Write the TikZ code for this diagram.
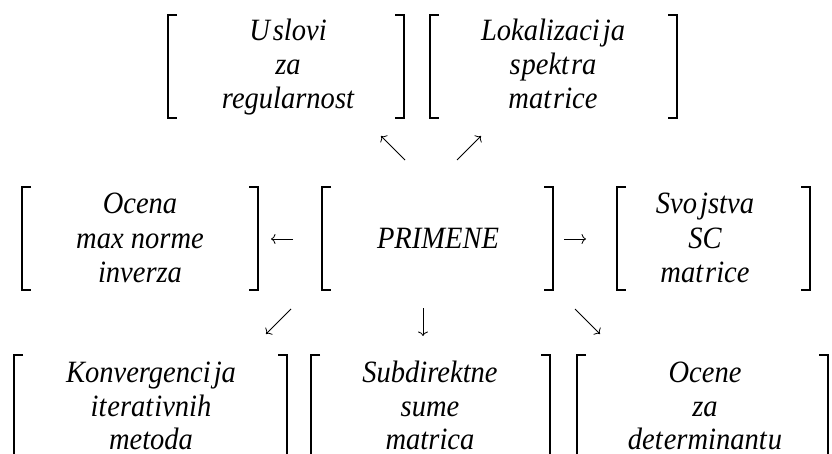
\documentclass[tikz,border=0pt]{standalone}
\usepackage{fontspec}
\setmainfont[FakeStretch=0.92]{Liberation Serif}
\usetikzlibrary{arrows.meta}
\tikzset{
  label text/.style={anchor=base, inner sep=0pt, font=\fontsize{31}{34}\selectfont\itshape},
  bracket/.style={line width=2pt},
  link/.style={line width=0.8pt, -{To[length=4.5pt,width=10pt]}},
}
% left and right bracket of a box: #1 left x, #2 right x, #3 top, #4 bottom
\newcommand{\brackbox}[4]{%
  \draw[bracket] (#1+9,#3) -- (#1,#3) -- (#1,#4) -- (#1+9,#4);
  \draw[bracket] (#2-9,#3) -- (#2,#3) -- (#2,#4) -- (#2-9,#4);
}
\begin{document}
\begin{tikzpicture}[x=1pt,y=-1pt]
\useasboundingbox (0,0) rectangle (832,454);
\clip (0,0) rectangle (832,454);

% top row
\brackbox{168}{404}{15}{118}
\node[label text] (u1) at (288,41) {U\kern3pt slovi};
\node[label text] (u2) at (288,75) {za};
\node[label text] (u3) at (288,109) {regularnost};
\brackbox{430}{677}{15}{118}
\node[label text] (l1) at (553,41) {Lokalizaci\kern3pt ja};
\node[label text] (l2) at (553,75) {s\kern1pt pekt\kern2pt ra};
\node[label text] (l3) at (553,109) {mat\kern2pt rice};

% middle row
\brackbox{22}{258}{187}{290}
\node[label text] (o1) at (140,214) {Ocena};
\node[label text] (o2) at (140,249) {max norme};
\node[label text] (o3) at (140,283) {inverza};
\brackbox{322}{553}{187}{290}
\node[label text] (p) at (438,249) {PRIMENE};
\brackbox{617}{810}{187}{290}
\node[label text] (s1) at (705,214) {Svo\kern3pt jstva};
\node[label text] (s2) at (705,249) {SC};
\node[label text] (s3) at (705,283) {mat\kern2pt rice};

% bottom row
\brackbox{14}{287}{355}{470}
\node[label text] (k1) at (151,382) {Konvergenci\kern3pt ja};
\node[label text] (k2) at (151,416) {it\kern1pt erat\kern1pt ivnih};
\node[label text] (k3) at (151,449) {metoda};
\brackbox{311}{550}{355}{470}
\node[label text] (d1) at (430,382) {Subdirektne};
\node[label text] (d2) at (430,416) {sume};
\node[label text] (d3) at (430,449) {matrica};
\brackbox{577}{828}{355}{470}
\node[label text] (e1) at (705,382) {Ocene};
\node[label text] (e2) at (705,416) {za};
\node[label text] (e3) at (705,449) {det\kern1pt erminant\kern1pt u};

% arrow end points
\coordinate (nwA) at (405,160); \coordinate (nwB) at (381,136);
\coordinate (neA) at (457,160); \coordinate (neB) at (481,136);
\coordinate (wA) at (293,239);  \coordinate (wB) at (271,239);
\coordinate (eA) at (564,239);  \coordinate (eB) at (586,239);
\coordinate (swA) at (291,309); \coordinate (swB) at (266,334);
\coordinate (sA) at (423,308);  \coordinate (sB) at (423,336);
\coordinate (seA) at (575,309); \coordinate (seB) at (600,334);

\draw[link] (nwA) -- (nwB);
\draw[link] (neA) -- (neB);
\draw[link] (wA) -- (wB);
\draw[link] (eA) -- (eB);
\draw[link] (swA) -- (swB);
\draw[link] (sA) -- (sB);
\draw[link] (seA) -- (seB);
\end{tikzpicture}
\end{document}
